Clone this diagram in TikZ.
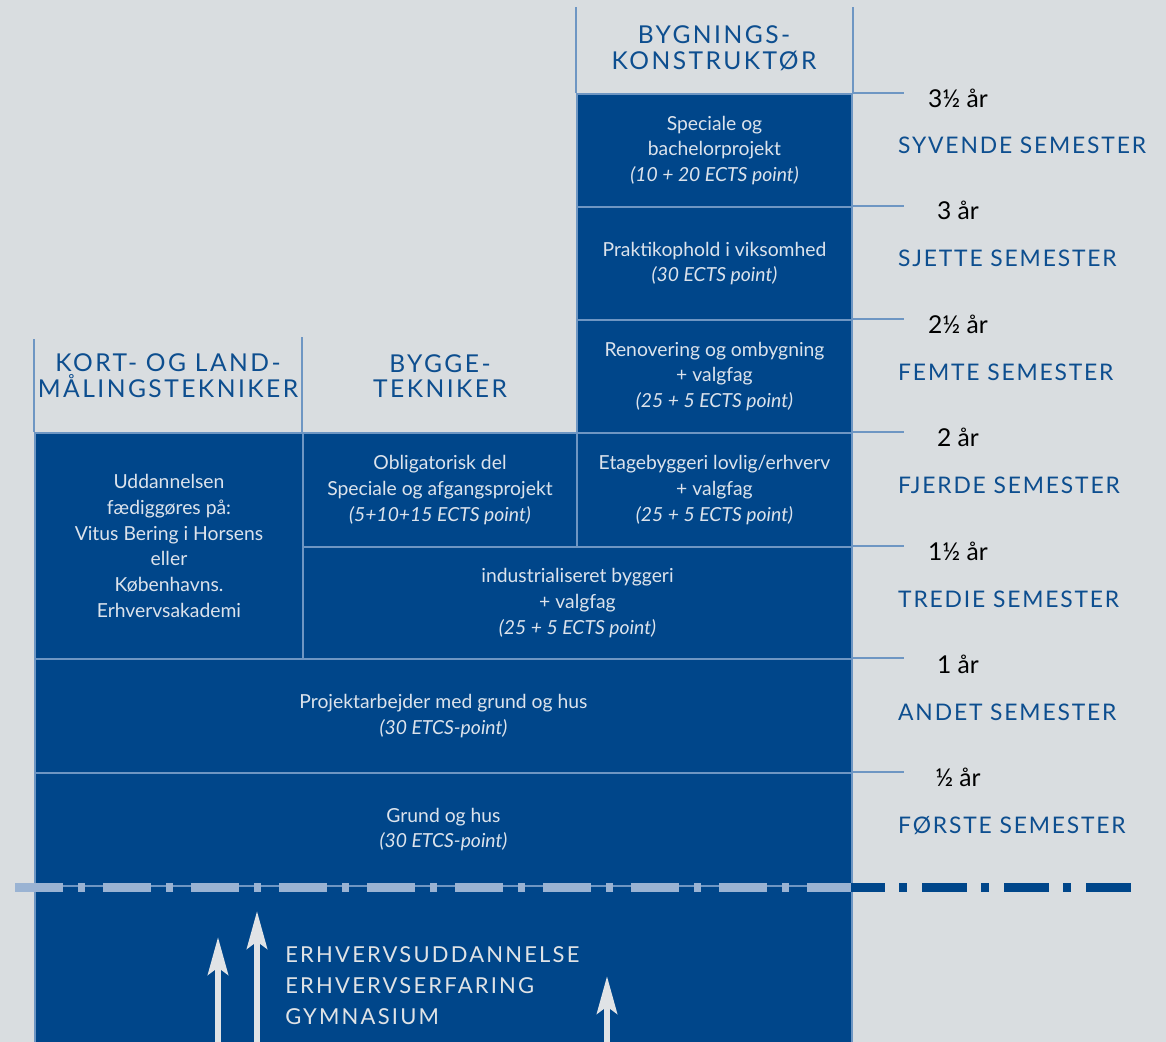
\documentclass[tikz,border=0pt]{standalone}
\usepackage{fontspec}
\setmainfont{Lato}
\newfontfamily\wideFont[LetterSpace=10]{Lato}
\newfontfamily\termFont[LetterSpace=8]{Lato}
\usetikzlibrary{arrows.meta}
\definecolor{bgGrey}{HTML}{D9DDE0}
\definecolor{deepBlue}{HTML}{00468A}
\definecolor{edgeBlue}{HTML}{6E96C3}
\definecolor{headBlue}{HTML}{0D4E8F}
\definecolor{paleText}{HTML}{DCE3EC}
\definecolor{dashBlue}{HTML}{9AB3D3}
\definecolor{arrowGrey}{HTML}{E0E3E6}
\begin{document}
\begin{tikzpicture}
        [
        Cell/.style={rectangle,draw=edgeBlue,fill=deepBlue,line width=1pt,text=paleText,align=center,inner sep=0pt,font=\fontsize{11}{14.7}\selectfont},
        Head/.style={text=headBlue,align=center,font=\wideFont\fontsize{14}{14.7}\selectfont},
        Year/.style={text=black,font=\fontsize{14}{16}\selectfont},
        Term/.style={anchor=west,text=headBlue,font=\termFont\fontsize{13}{15}\selectfont},
        Rule/.style={draw=edgeBlue,line width=1pt},
        Up/.style={draw=arrowGrey,line width=0.13cm,-{Stealth[length=0.75cm,width=0.4cm,inset=0.14cm]}},
        ]

        \fill[bgGrey] (0,0) rectangle (23.32,-20.84);
        \useasboundingbox (0,0) rectangle (23.32,-20.84);

        % base
        \node[Cell, minimum width=16.34cm, minimum height=3.6cm] (base) at (8.87,-19.52) {};

        % bygningskonstruktoer
        \node[Cell, minimum width=5.5cm, minimum height=2.26cm] (c7) at (14.29,-3.01){Speciale og\\bachelorprojekt\\\textit{(10 + 20 ECTS point)}};
        \node[Cell, minimum width=5.5cm, minimum height=2.26cm] (c6) at (14.29,-5.27){Praktikophold i viksomhed\\\textit{(30 ECTS point)}};
        \node[Cell, minimum width=5.5cm, minimum height=2.26cm] (c5) at (14.29,-7.53){Renovering og ombygning\\+ valgfag\\\textit{(25 + 5 ECTS point)}};
        \node[Cell, minimum width=5.5cm, minimum height=2.28cm] (c4b) at (14.29,-9.80){Etagebyggeri lovlig/erhverv\\+ valgfag\\\textit{(25 + 5 ECTS point)}};

        % byggetekniker
        \node[Cell, minimum width=5.48cm, minimum height=2.28cm] (c4a) at (8.80,-9.80){Obligatorisk del\\Speciale og afgangsprojekt\\\textit{(5+10+15 ECTS point)}};
        \node[Cell, minimum width=10.98cm, minimum height=2.24cm] (c3) at (11.55,-12.06){industrialiseret byggeri\\+ valgfag\\\textit{(25 + 5 ECTS point)}};

        % kort- og landmaaling
        \node[Cell, minimum width=5.36cm, minimum height=4.52cm] (ck) at (3.38,-10.92){Uddannelsen\\fædiggøres på:\\Vitus Bering i Horsens\\eller\\Københavns.\\Erhvervsakademi};

        % faelles
        \node[Cell, minimum width=16.34cm, minimum height=2.28cm] (c2) at (8.87,-14.32){Projektarbejder med grund og hus\\\textit{(30 ETCS-point)}};
        \node[Cell, minimum width=16.34cm, minimum height=2.26cm] (c1) at (8.87,-16.59){Grund og hus\\\textit{(30 ETCS-point)}};

        % headers
        \draw[Rule] (c7.north west) -- ++(0,1.72);
        \draw[Rule] (c7.north east) -- ++(0,1.72);
        \draw[Rule] (ck.north west) -- ++(0,1.86);
        \draw[Rule] (c4a.north west) -- ++(0,1.90);
        \node[Head] (h1) at (14.28,-0.96){BYGNINGS-\\KONSTRUKTØR};
        \node[Head] (h2) at (3.36,-7.52){KORT- OG LAND-\\MÅLINGSTEKNIKER};
        \node[Head] (h3) at (8.80,-7.52){BYGGE-\\TEKNIKER};

        % ticks
        \foreach \b in {c7,c6,c5,c4b,c3,c2,c1}
            \draw[Rule] (\b.north east) -- ++(1.02,0);

        \node[Year] (y7) at (19.16,-1.96){3½ år};
        \node[Year] (y6) at (19.16,-4.20){3 år};
        \node[Year] (y5) at (19.16,-6.48){2½ år};
        \node[Year] (y4) at (19.16,-8.74){2 år};
        \node[Year] (y3) at (19.16,-11.02){1½ år};
        \node[Year] (y2) at (19.16,-13.28){1 år};
        \node[Year] (y1) at (19.16,-15.54){½ år};

        \node[Term] (t7) at (17.84,-2.90){SYVENDE SEMESTER};
        \node[Term] (t6) at (17.84,-5.16){SJETTE SEMESTER};
        \node[Term] (t5) at (17.84,-7.44){FEMTE SEMESTER};
        \node[Term] (t4) at (17.84,-9.70){FJERDE SEMESTER};
        \node[Term] (t3) at (17.84,-11.98){TREDIE SEMESTER};
        \node[Term] (t2) at (17.84,-14.24){ANDET SEMESTER};
        \node[Term] (t1) at (17.84,-16.52){FØRSTE SEMESTER};

        % dash-dot line
        \draw[dashBlue, line width=0.18cm, dash pattern=on 0.96cm off 0.30cm on 0.14cm off 0.36cm] (0.30,-17.74) -- (17.02,-17.74);
        \draw[deepBlue, line width=0.18cm, dash pattern=on 0.90cm off 0.28cm on 0.16cm off 0.30cm, dash phase=0.22cm] (17.02,-17.74) -- (22.72,-17.74);

        % arrows
        \coordinate (a1s) at (4.36,-21);
        \coordinate (a1e) at (4.36,-18.74);
        \coordinate (a2s) at (5.14,-21);
        \coordinate (a2e) at (5.14,-18.22);
        \coordinate (a3s) at (12.14,-21);
        \coordinate (a3e) at (12.14,-19.52);
        \draw[Up] (a1s) -- (a1e);
        \draw[Up] (a2s) -- (a2e);
        \draw[Up] (a3s) -- (a3e);

        \node[anchor=north west, align=left, text=arrowGrey, inner sep=0pt, font=\wideFont\fontsize{12.5}{17.6}\selectfont] (entry) at (5.70,-18.92){ERHVERVSUDDANNELSE\\ERHVERVSERFARING\\GYMNASIUM};

    \end{tikzpicture}
\end{document}
